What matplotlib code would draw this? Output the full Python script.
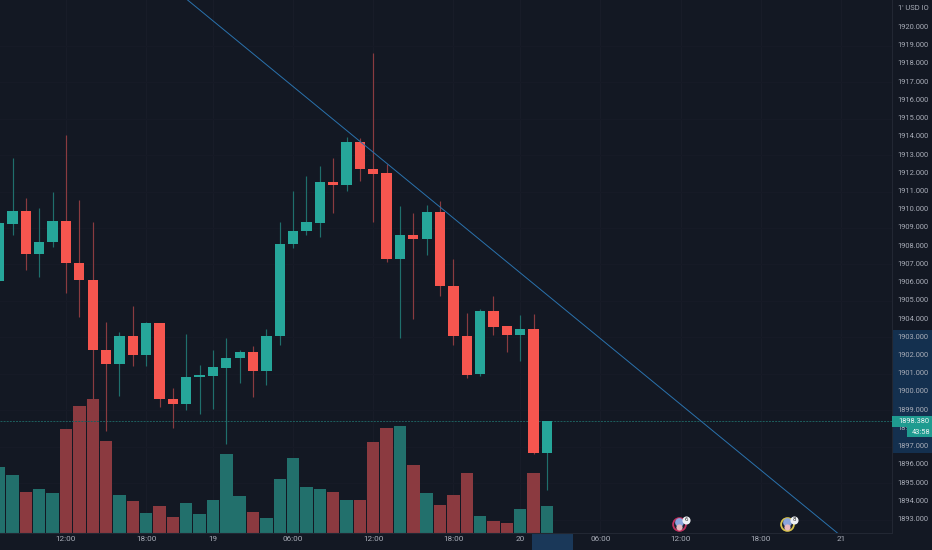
import matplotlib
matplotlib.use("Agg")
import matplotlib.pyplot as plt
from matplotlib.patches import Rectangle

bar_index = list(range(-5, 37))
opens = [1906.09, 1909.23, 1909.95, 1907.57, 1908.22, 1909.36, 1907.05, 1906.14, 1902.28, 1901.55, 1903.08, 1902.02,
         1903.80, 1899.59, 1899.33, 1900.81, 1900.89, 1901.33, 1901.84, 1902.21, 1901.16, 1903.05, 1908.11, 1908.85,
         1909.27, 1911.50, 1911.35, 1913.73, 1912.21, 1912.00, 1907.31, 1908.61, 1908.41, 1909.87, 1905.79, 1903.06,
         1900.98, 1904.44, 1903.61, 1903.12, 1903.47, 1896.66]
closes = [1909.25, 1909.95, 1907.57, 1908.22, 1909.36, 1907.05, 1906.14, 1902.28, 1901.55, 1903.08, 1902.02, 1903.80,
          1899.59, 1899.33, 1900.81, 1900.92, 1901.35, 1901.86, 1902.21, 1901.16, 1903.05, 1908.11, 1908.86, 1909.30,
          1911.50, 1911.35, 1913.73, 1912.21, 1911.97, 1907.31, 1908.61, 1908.41, 1909.87, 1905.79, 1903.06, 1900.93,
          1904.44, 1903.58, 1903.12, 1903.47, 1896.66, 1898.38]
highs = [1909.40, 1912.82, 1910.62, 1910.07, 1910.99, 1914.10, 1910.53, 1909.34, 1903.85, 1903.27, 1904.73, 1903.85,
         1903.80, 1900.19, 1903.16, 1901.47, 1902.33, 1902.94, 1902.33, 1902.52, 1903.45, 1909.34, 1911.02, 1911.85,
         1912.41, 1912.83, 1913.97, 1913.91, 1918.58, 1912.50, 1910.20, 1909.80, 1910.25, 1910.46, 1907.27, 1904.31,
         1904.58, 1905.26, 1903.61, 1904.22, 1904.27, 1898.38]
lows = [1906.09, 1908.61, 1906.69, 1906.32, 1907.97, 1905.41, 1904.13, 1899.00, 1897.85, 1899.77, 1901.42, 1901.42,
        1899.15, 1898.00, 1899.00, 1898.78, 1899.04, 1897.17, 1900.50, 1899.74, 1900.38, 1902.57, 1907.91, 1908.61,
        1908.52, 1909.83, 1911.04, 1911.55, 1909.34, 1907.11, 1902.94, 1904.03, 1907.51, 1905.28, 1902.57, 1900.75,
        1900.90, 1903.12, 1902.20, 1901.71, 1896.59, 1894.62]
volumes = [197, 174, 122, 132, 120, 313, 380, 402, 277, 115, 95, 61, 82, 49, 91, 58, 98, 238, 110, 64, 45, 162, 226,
           138, 132, 124, 98, 100, 273, 315, 322, 204, 121, 85, 114, 181, 51, 37, 31, 73, 181, 82]

trend_index = [16.02, 38.47]
trend_price = [1917.35, 1903.85]
last_price = 1898.38
price_range = [1896.67, 1903.40]
time_range = [34.88, 37.95]
price_ticks = list(range(1893, 1921))
time_ticks = [0, 6, 11, 17, 23, 29, 34, 40, 46, 52, 58]
time_labels = ["12:00", "18:00", "19", "06:00", "12:00", "18:00", "20", "06:00", "12:00", "18:00", "21"]
event_index = [45.92, 54.0]
event_price = 1892.75
event_rings = ["#c2305f", "#d8c34a"]
event_counts = ["6", "8"]

BG = "#131823"
UP = "#26a69a"
DOWN = "#f6564f"
VUP = "#22706c"
VDOWN = "#8b3a40"
WUP = "#1f6f6c"
WDOWN = "#8a3b40"
TXT = "#a9adb8"

W, H = 932, 550
AX_R, AX_B = 892, 533
XLIM = (-4.94, 61.83)
YLIM = (1892.26, 1921.51)
FS = 5.9
FS_P = 5.4

plt.rcParams["font.family"] = ["Roboto", "DejaVu Sans"]
fig = plt.figure(figsize=(W / 100, H / 100), dpi=100, facecolor=BG)
main_pos = [0, (H - AX_B) / H, AX_R / W, AX_B / H]
right_pos = [AX_R / W, (H - AX_B) / H, (W - AX_R) / W, AX_B / H]
time_pos = [0, 0, AX_R / W, (H - AX_B) / H]

# background strips
ax_right = fig.add_axes(right_pos, zorder=0, facecolor=BG)
ax_right.set_ylim(*YLIM)
ax_right.axis("off")
ax_right.axhspan(price_range[0], price_range[1], color="#14304f", lw=0)

ax_time = fig.add_axes(time_pos, zorder=0, facecolor=BG)
ax_time.set_xlim(*XLIM)
ax_time.axis("off")
ax_time.axvspan(time_range[0], time_range[1], color="#1a3859", lw=0)

# volume
ax_vol = fig.add_axes(main_pos, zorder=1, facecolor=BG)
ax_vol.set_xlim(*XLIM)
ax_vol.set_ylim(0, 1599)
ax_vol.axis("off")
for t in time_ticks:
    ax_vol.axvline(t, color="#181c28", lw=0.8, zorder=0)
for p in price_ticks[::2]:
    ax_vol.axhline((p - YLIM[0]) / (YLIM[1] - YLIM[0]) * 1599, color="#161a26", lw=0.8, zorder=0)
ax_vol.bar(bar_index, volumes, width=0.93,
           color=[VUP if c >= o else VDOWN for o, c in zip(opens, closes)], lw=0, zorder=2)

# price
ax = fig.add_axes(main_pos, zorder=2)
ax.patch.set_alpha(0)
ax.set_xlim(*XLIM)
ax.set_ylim(*YLIM)
for s in ["top", "left"]:
    ax.spines[s].set_visible(False)
ax.spines["right"].set_color("#222733")
ax.spines["bottom"].set_color("#222733")
ax.spines["right"].set_linewidth(0.8)
ax.spines["bottom"].set_linewidth(0.8)
ax.yaxis.tick_right()
ax.set_yticks(price_ticks)
ax.set_yticklabels([f"{p}.000" for p in price_ticks])
ax.set_xticks(time_ticks)
ax.set_xticklabels(time_labels)
ax.tick_params(axis="y", length=0, pad=4, labelsize=FS_P, labelcolor=TXT)
ax.tick_params(axis="x", length=0, pad=2.5, labelsize=FS, labelcolor=TXT)
for lab in ax.get_yticklabels():
    lab.set_verticalalignment("center")

ax.axhline(last_price, color="#1d5f5e", lw=0.7, ls=(0, (2, 1.2)), zorder=1)
for i, o, c, h, l in zip(bar_index, opens, closes, highs, lows):
    up = c >= o
    ax.vlines(i, l, h, color=WUP if up else WDOWN, lw=0.85, zorder=2)
    ax.add_patch(Rectangle((i - 0.385, min(o, c)), 0.77, abs(c - o), facecolor=UP if up else DOWN, lw=0, zorder=3))
ax.axline((trend_index[0], trend_price[0]), (trend_index[1], trend_price[1]), color="#2a72ad", lw=0.7, zorder=4)

for xi, ring, count in zip(event_index, event_rings, event_counts):
    ax.scatter([xi], [event_price], s=85, facecolor="#1b2030", edgecolor=ring, lw=1.3, zorder=5, clip_on=False)
    ax.scatter([xi], [event_price + 0.1], s=40, color="#8aa4dc", lw=0, zorder=6, clip_on=False)
    ax.scatter([xi], [event_price - 0.18], s=20, color="#e8b8c0", lw=0, zorder=6, clip_on=False)
    ax.scatter([xi + 0.5], [event_price + 0.24], s=34, color="#eef0f4", lw=0, zorder=7, clip_on=False)
    ax.text(xi + 0.5, event_price + 0.23, count, fontsize=4.4, color="#333", ha="center", va="center", zorder=8)

# overlay tags
ax_tags = fig.add_axes(right_pos, zorder=5)
ax_tags.patch.set_alpha(0)
ax_tags.set_xlim(0, W - AX_R)
ax_tags.set_ylim(*YLIM)
ax_tags.axis("off")
ax_tags.add_patch(Rectangle((0, last_price - 0.28), 40, 0.56, facecolor="#1f9b90", lw=0))
ax_tags.text(6, last_price - 0.01, f"{last_price:.3f}", color="#eef4f4", fontsize=FS_P, va="center", ha="left")
ax_tags.add_patch(Rectangle((15, last_price - 0.86), 25, 0.56, facecolor="#1f9b90", lw=0))
ax_tags.text(20, last_price - 0.59, "43:58", color="#eef4f4", fontsize=FS_P, va="center", ha="left")
ax_tags.text(6, 1921.06, "1' USD IO", color=TXT, fontsize=FS_P, va="center", ha="left")

fig.savefig("out.png", dpi=100, facecolor=BG)
